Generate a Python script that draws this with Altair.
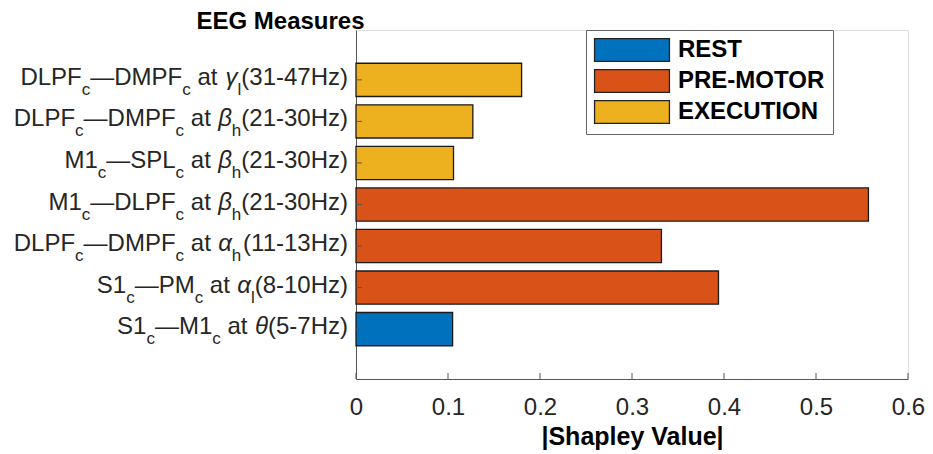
import altair as alt
import pandas as pd

# ---------------- data ----------------
categories = [
    "DLPF_c—DMPF_c at γ_l(31-47Hz)",
    "DLPF_c—DMPF_c at β_h(21-30Hz)",
    "M1_c—SPL_c at β_h(21-30Hz)",
    "M1_c—DLPF_c at β_h(21-30Hz)",
    "DLPF_c—DMPF_c at α_h(11-13Hz)",
    "S1_c—PM_c at α_l(8-10Hz)",
    "S1_c—M1_c at θ(5-7Hz)",
]
phases = ["EXECUTION", "EXECUTION", "EXECUTION",
          "PRE-MOTOR", "PRE-MOTOR", "PRE-MOTOR", "REST"]
values = [0.180, 0.127, 0.106, 0.557, 0.332, 0.394, 0.105]
phase_order = ["REST", "PRE-MOTOR", "EXECUTION"]
phase_colors = ["#0072BD", "#D95319", "#EDB120"]
x_ticks = [0, 0.1, 0.2, 0.3, 0.4, 0.5, 0.6]

FONT = "Liberation Sans"
FS = 24      # main label font size
SS = 17      # subscript font size
GAP = 8      # gap between labels and axis
PW, PH = 552, 349

bars = pd.DataFrame({"cat": categories, "phase": phases, "value": values})

# ------------- rich label layout (subscripts / italic greek) -------------
GREEK = set("αβγθ")
W = {' ': 278, '(': 333, ')': 333, '-': 333, '—': 1000,
     'A': 667, 'C': 722, 'D': 722, 'E': 667, 'F': 611, 'G': 778, 'H': 722,
     'L': 556, 'M': 833, 'P': 667, 'S': 667, 'T': 611,
     'a': 556, 'c': 500, 'h': 556, 'l': 222, 't': 278, 'z': 500,
     'α': 600, 'β': 600, 'γ': 560, 'θ': 580}
for d in "0123456789":
    W[d] = 556


def parse(lbl):
    segs, buf, i = [], "", 0
    while i < len(lbl):
        ch = lbl[i]
        if ch == "_":
            if buf:
                segs.append((buf, "n"))
                buf = ""
            segs.append((lbl[i + 1], "s"))
            i += 2
            continue
        if ch in GREEK:
            if buf:
                segs.append((buf, "n"))
                buf = ""
            segs.append((ch, "g"))
            i += 1
            continue
        buf += ch
        i += 1
    if buf:
        segs.append((buf, "n"))
    return segs


def wid(s, size):
    return sum(W.get(c, 556) for c in s) * size / 1000.0


rows = []
for cat in categories:
    segs = parse(cat)
    right = -GAP
    for text, kind in reversed(segs):
        size = SS if kind == "s" else FS
        stripped = text.strip()
        trail = len(text) - len(text.rstrip())
        rows.append({"cat": cat, "text": stripped, "kind": kind,
                     "px": right - trail * W[' '] * size / 1000.0})
        right -= wid(text, size)
labels = pd.DataFrame(rows)

# ---------------- chart ----------------
yscale = alt.Scale(domain=categories, paddingInner=0.2, paddingOuter=0.8)
xscale = alt.Scale(domain=[0, 0.6], nice=False)

bar_layer = alt.Chart(bars).mark_bar(stroke="#1a1a1a", strokeWidth=1.3).encode(
    x=alt.X("value:Q", scale=xscale,
            axis=alt.Axis(values=x_ticks, format=".1~f", ticks=False, grid=False,
                          labelFontSize=24, labelFont=FONT, labelColor="#262626",
                          labelPadding=16, labelFlush=False, labelOverlap=False,
                          title="|Shapley Value|", titleFontSize=25, titleFont=FONT,
                          titleFontWeight="bold", titleColor="#000000",
                          titlePadding=5, domainColor="#555555")),
    y=alt.Y("cat:N", sort=categories, scale=yscale,
            axis=alt.Axis(labels=False, ticks=False, grid=False,
                          title="EEG Measures", titleAngle=0, titleAlign="center",
                          titleBaseline="alphabetic", titleX=-76, titleY=-2,
                          titleFontSize=24, titleFont=FONT, titleFontWeight="bold",
                          titleColor="#000000", domainColor="#555555")),
    color=alt.Color("phase:N", scale=alt.Scale(domain=phase_order, range=phase_colors),
                    legend=alt.Legend(title=None, orient="none", legendX=230, legendY=0,
                                      strokeColor="#666666", fillColor="#ffffff",
                                      padding=8, rowPadding=3,
                                      symbolType="M-3.3,-1H3.3V1H-3.3Z", symbolSize=515,
                                      symbolStrokeColor="#222222", symbolStrokeWidth=1.3,
                                      symbolOffset=26, labelOffset=34, labelLimit=156,
                                      labelFont=FONT, labelFontSize=24,
                                      labelFontWeight="bold", labelColor="#000000")),
)

xtick_layer = alt.Chart(pd.DataFrame({"t": x_ticks})).mark_rule(
    color="#555555", strokeWidth=1).encode(
    x=alt.X("t:Q", scale=xscale),
    y=alt.value(PH), y2=alt.value(PH - 6))

ytick_layer = alt.Chart(pd.DataFrame({"cat": categories})).mark_rule(
    color="#555555", strokeWidth=1).encode(
    y=alt.Y("cat:N", sort=categories, scale=yscale),
    x=alt.value(0), x2=alt.value(6))

base_txt = alt.Chart(labels)
enc = dict(x=alt.X("px:Q", scale=None),
           y=alt.Y("cat:N", sort=categories, scale=yscale),
           text="text:N")
txt_n = base_txt.transform_filter(alt.datum.kind == "n").mark_text(
    align="right", baseline="alphabetic", font=FONT, fontSize=FS, dy=5,
    color="#262626").encode(**enc)
txt_g = base_txt.transform_filter(alt.datum.kind == "g").mark_text(
    align="right", baseline="alphabetic", font=FONT, fontSize=FS, dy=5,
    fontStyle="italic", color="#262626").encode(**enc)
txt_s = base_txt.transform_filter(alt.datum.kind == "s").mark_text(
    align="right", baseline="alphabetic", font=FONT, fontSize=SS, dy=15,
    color="#262626").encode(**enc)

chart = alt.layer(bar_layer, xtick_layer, ytick_layer, txt_n, txt_g, txt_s).properties(
    width=PW, height=PH,
    autosize=alt.AutoSizeParams(type="none"),
    padding={"left": 348, "top": 22, "right": 17, "bottom": 75},
).configure_view(strokeWidth=0).configure(background="#ffffff")

chart.save("out.html", embed_options={"renderer": "svg", "actions": False})
